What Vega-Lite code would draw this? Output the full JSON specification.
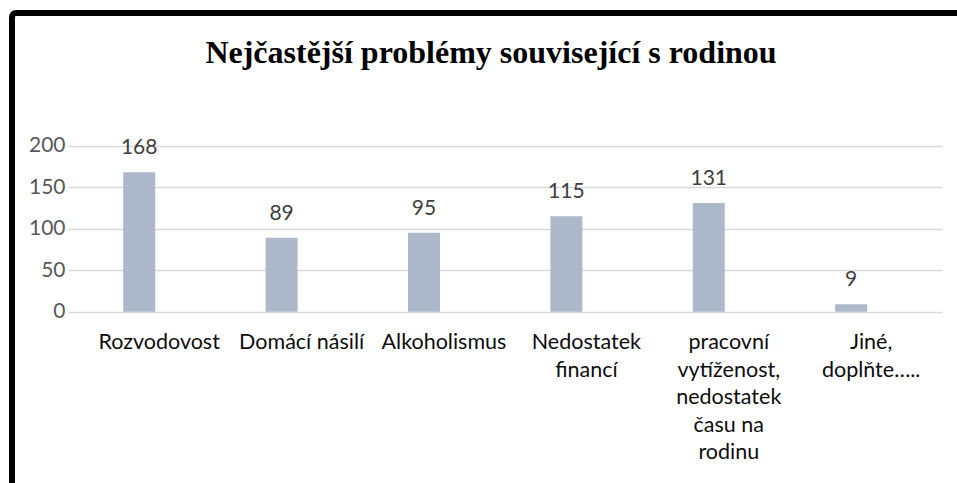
{
  "$schema": "https://vega.github.io/schema/vega-lite/v6.json",
  "autosize": {"type": "none"},
  "padding": {"left": 12, "top": 13, "right": -13, "bottom": -17},
  "width": 958,
  "height": 487,
  "background": "#ffffff",
  "config": {
    "view": {"stroke": "#000000", "strokeWidth": 6, "cornerRadius": 4, "fill": "#ffffff"}
  },
  "title": {
    "text": "Nejčastější problémy související s rodinou",
    "font": "Liberation Serif",
    "fontSize": 32,
    "fontWeight": "bold",
    "color": "#000000",
    "anchor": "middle",
    "frame": "group",
    "orient": "top",
    "baseline": "alphabetic",
    "offset": -82
  },
  "data": {
    "values": [
      {"problem": "Rozvodovost", "count": 168},
      {"problem": "Domácí násilí", "count": 89},
      {"problem": "Alkoholismus", "count": 95},
      {"problem": "Nedostatek financí", "count": 115},
      {"problem": "pracovní vytíženost, nedostatek času na rodinu", "count": 131},
      {"problem": "Jiné, doplňte…..", "count": 9}
    ]
  },
  "encoding": {
    "x": {
      "field": "problem",
      "type": "nominal",
      "sort": null,
      "scale": {"type": "band", "range": [56, 930], "paddingInner": 0, "paddingOuter": 0.069, "align": 0, "round": false},
      "axis": {
        "orient": "bottom",
        "offset": -188.3,
        "title": null,
        "domain": false,
        "ticks": false,
        "tickSize": 0,
        "grid": false,
        "labelAngle": 0,
        "labelFont": "Lato",
        "labelFontSize": 21.5,
        "labelColor": "#0d0d0d",
        "labelPadding": 20,
        "labelBaseline": "top",
        "labelLineHeight": 27.5,
        "labelLimit": 0,
        "labelOverlap": false,
        "labelOffset": 20,
        "labelExpr": "datum.value == 'Nedostatek financí' ? ['Nedostatek','financí'] : datum.value == 'pracovní vytíženost, nedostatek času na rodinu' ? ['pracovní','vytíženost,','nedostatek','času na','rodinu'] : datum.value == 'Jiné, doplňte…..' ? ['Jiné,','doplňte…..'] : datum.value"
      }
    },
    "y": {
      "field": "count",
      "type": "quantitative",
      "scale": {"domain": [0, 200], "range": [298.7, 132.7], "nice": false, "zero": true},
      "axis": {
        "orient": "left",
        "offset": -56,
        "title": null,
        "values": [0, 50, 100, 150, 200],
        "domain": false,
        "ticks": false,
        "tickSize": 0,
        "grid": true,
        "gridColor": "#D9D9D9",
        "gridWidth": 1.5,
        "labelFont": "Lato",
        "labelFontSize": 21,
        "labelColor": "#595959",
        "labelPadding": 3
      }
    }
  },
  "layer": [
    {"mark": {"type": "bar", "color": "#ADB9CA", "size": 32}},
    {
      "mark": {"type": "text", "baseline": "alphabetic", "dy": -18, "font": "Lato", "fontSize": 21, "color": "#404040"},
      "encoding": {"text": {"field": "count", "type": "quantitative"}}
    }
  ]
}
